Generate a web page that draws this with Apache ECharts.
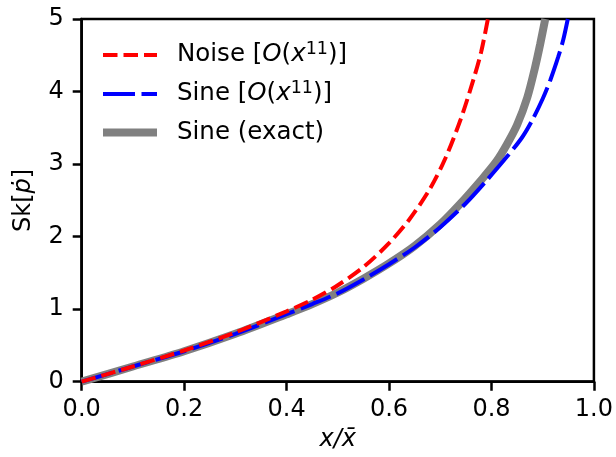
<!DOCTYPE html>
<html>
<head>
<meta charset="utf-8">
<script src="https://cdn.jsdelivr.net/npm/echarts@6/dist/echarts.min.js"></script>
<style>
html,body{margin:0;padding:0;background:#fff;}
#chart{width:616px;height:457px;}
</style>
</head>
<body>
<div id="chart"></div>
<script>
// ---- data ----
const noiseX = [0, 0.1, 0.2, 0.3, 0.4, 0.45, 0.5, 0.55, 0.6, 0.64, 0.68, 0.71, 0.74, 0.765, 0.78, 0.793];
const noiseY = [0, 0.21, 0.43, 0.68, 0.97, 1.13, 1.33, 1.58, 1.91, 2.24, 2.66, 3.08, 3.62, 4.17, 4.55, 5.0];
const sineX  = [0, 0.1, 0.2, 0.3, 0.4, 0.45, 0.5, 0.55, 0.6, 0.65, 0.7, 0.75, 0.79, 0.83, 0.86, 0.88, 0.90, 0.915, 0.93, 0.94, 0.949];
const sineY  = [0, 0.21, 0.42, 0.66, 0.93, 1.07, 1.22, 1.41, 1.62, 1.85, 2.13, 2.46, 2.77, 3.10, 3.37, 3.61, 3.90, 4.16, 4.47, 4.71, 5.0];
const exactX = [0, 0.1, 0.2, 0.3, 0.4, 0.45, 0.5, 0.55, 0.6, 0.65, 0.7, 0.74, 0.78, 0.81, 0.83, 0.85, 0.87, 0.885, 0.895, 0.905];
const exactY = [0, 0.21, 0.42, 0.66, 0.93, 1.07, 1.23, 1.42, 1.63, 1.87, 2.17, 2.46, 2.78, 3.04, 3.27, 3.54, 3.92, 4.33, 4.65, 5.0];
const xTicks = ['0.0', '0.2', '0.4', '0.6', '0.8', '1.0'];
const yTicks = ['0', '1', '2', '3', '4', '5'];
const names = ['Noise [O(x11)]', 'Sine [O(x11)]', 'Sine (exact)'];
const legendLabels = [
  '{n|Noise [}{i|O}{n|(}{i|x}{s|11}{n|)]}',
  '{n|Sine [}{i|O}{n|(}{i|x}{s|11}{n|)]}',
  '{n|Sine (exact)}'
];

const pairs = (xs, ys) => xs.map((x, i) => [x, ys[i]]);
const FONT = 'DejaVu Sans';
const COLORS = ['#ff0000', '#0000ff', '#808080'];
const WIDTHS = [4, 4, 8];
const DASHES = [[14.5, 6], [32, 6.5], null];

const chart = echarts.init(document.getElementById('chart'), null, {renderer: 'canvas'});
const rich = {
  n: {fontSize: 24.5, fontFamily: FONT, fill: '#000', color: '#000', lineHeight: 30},
  i: {fontSize: 24.5, fontFamily: FONT, fontStyle: 'italic', fill: '#000', color: '#000', lineHeight: 30},
  s: {fontSize: 17.5, fontFamily: FONT, fill: '#000', color: '#000', verticalAlign: 'top', lineHeight: 22}
};

// legend drawn as graphic (key, not data)
const legendRows = [55, 94, 132.5];
const legendGraphic = [];
names.forEach((nm, k) => {
  legendGraphic.push({
    type: 'line', silent: true,
    shape: {x1: 103, y1: legendRows[k], x2: 157, y2: legendRows[k]},
    style: {stroke: COLORS[k], lineWidth: WIDTHS[k], lineDash: DASHES[k] || null, lineCap: 'butt'}
  });
  legendGraphic.push({
    type: 'text', silent: true, x: 177, y: legendRows[k],
    style: {text: legendLabels[k], rich: rich, fontSize: 24.5, fontFamily: FONT, fill: '#000', verticalAlign: 'middle', align: 'left'}
  });
});

const seriesOrder = [2, 1, 0]; // gray bottom, blue, red top
const xs = [noiseX, sineX, exactX];
const ys = [noiseY, sineY, exactY];

chart.setOption({
  animation: false,
  backgroundColor: '#fff',
  grid: {left: 81.7, right: 20, top: 19, bottom: 75.3, show: true, borderColor: '#000', borderWidth: 2.5, backgroundColor: 'transparent'},
  graphic: legendGraphic,
  xAxis: {
    type: 'value', min: 0, max: 1, interval: 0.2,
    name: 'x/x\u0304', nameLocation: 'middle', nameGap: 46,
    nameTextStyle: {fontSize: 24, fontFamily: FONT, fontStyle: 'italic', color: '#000'},
    axisLine: {show: true, onZero: false, lineStyle: {color: '#000', width: 2.5}},
    axisTick: {show: true, inside: false, length: 9, lineStyle: {color: '#000', width: 2.5}},
    axisLabel: {fontSize: 24, fontFamily: FONT, color: '#000', margin: 16,
      formatter: function (v) { return xTicks[Math.round(v / 0.2)]; }},
    splitLine: {show: false}
  },
  yAxis: {
    type: 'value', min: 0, max: 5, interval: 1,
    name: '{n|Sk[}{i|p\u0307}{n|]}', nameLocation: 'middle', nameGap: 46,
    nameTextStyle: {fontSize: 24, fontFamily: FONT, color: '#000', rich: {
      n: {fontSize: 24, fontFamily: FONT, color: '#000'},
      i: {fontSize: 24, fontFamily: FONT, fontStyle: 'italic', color: '#000'}}},
    axisLine: {show: true, lineStyle: {color: '#000', width: 2.5}},
    axisTick: {show: true, inside: false, length: 9, lineStyle: {color: '#000', width: 2.5}},
    axisLabel: {fontSize: 24, fontFamily: FONT, color: '#000', margin: 18,
      formatter: function (v) { return yTicks[Math.round(v)]; }},
    splitLine: {show: false}
  },
  series: seriesOrder.map((k, z) => ({
    name: names[k], type: 'line', data: pairs(xs[k], ys[k]),
    smooth: 0.3, showSymbol: false, symbol: 'none',
    lineStyle: {color: COLORS[k], width: WIDTHS[k], type: DASHES[k] || 'solid', cap: 'butt'},
    itemStyle: {color: COLORS[k]}, z: 2 + z
  }))
});
</script>
</body>
</html>
